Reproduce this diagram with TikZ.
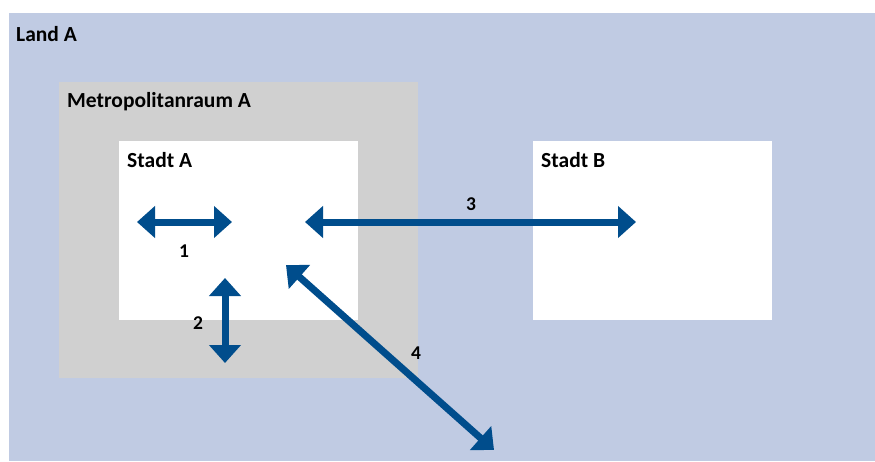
\documentclass[tikz,border=0pt]{standalone}
\usepackage{fontspec}
\setmainfont{Carlito}
\usetikzlibrary{arrows.meta}
\definecolor{landblue}{RGB}{192,203,227}
\definecolor{metrogray}{RGB}{208,208,208}
\definecolor{arrowblue}{RGB}{0,77,140}
\tikzset{
  area/.style={draw=none, inner sep=0pt, anchor=north west},
  title/.style={anchor=base west, inner sep=0pt, font=\fontsize{21.5}{24}\selectfont\bfseries},
  num/.style={inner sep=0pt, font=\fontsize{19.5}{24}\selectfont\bfseries},
  flow/.style={draw=arrowblue, line width=7pt,
    {Triangle[length=18pt,width=31pt]}-{Triangle[length=18pt,width=31pt]}}
}
\begin{document}
\begin{tikzpicture}[x=1pt,y=-1pt]
\useasboundingbox (0,0) rectangle (875,461);
\node[area, fill=landblue, minimum width=866pt, minimum height=448pt] (land) at (9,13) {};
\node[area, fill=metrogray, minimum width=359pt, minimum height=296pt] (metro) at (59,82) {};
\node[area, fill=white, minimum width=239pt, minimum height=179pt] (stadta) at (119,141) {};
\node[area, fill=white, minimum width=239pt, minimum height=179pt] (stadtb) at (533,141) {};
\node[title] (tland) at (16,41) {Land A};
\node[title] (tmetro) at (67,107) {Metropolitanraum A};
\node[title] (ta) at (127,167) {Stadt A};
\node[title] (tb) at (541,167) {Stadt B};
\coordinate (a1l) at (137,222);
\coordinate (a1r) at (232,222);
\coordinate (a2t) at (225,278);
\coordinate (a2b) at (225,363);
\coordinate (a3l) at (305,222);
\coordinate (a3r) at (636,222);
\coordinate (a4t) at (286,265);
\coordinate (a4b) at (494,450);
\draw[flow] (a1l) -- (a1r);
\draw[flow] (a2t) -- (a2b);
\draw[flow] (a3l) -- (a3r);
\draw[flow] (a4t) -- (a4b);
\node[num] (n1) at (184,251) {1};
\node[num] (n2) at (198,323) {2};
\node[num] (n3) at (471,204) {3};
\node[num] (n4) at (416,353) {4};
\end{tikzpicture}
\end{document}
